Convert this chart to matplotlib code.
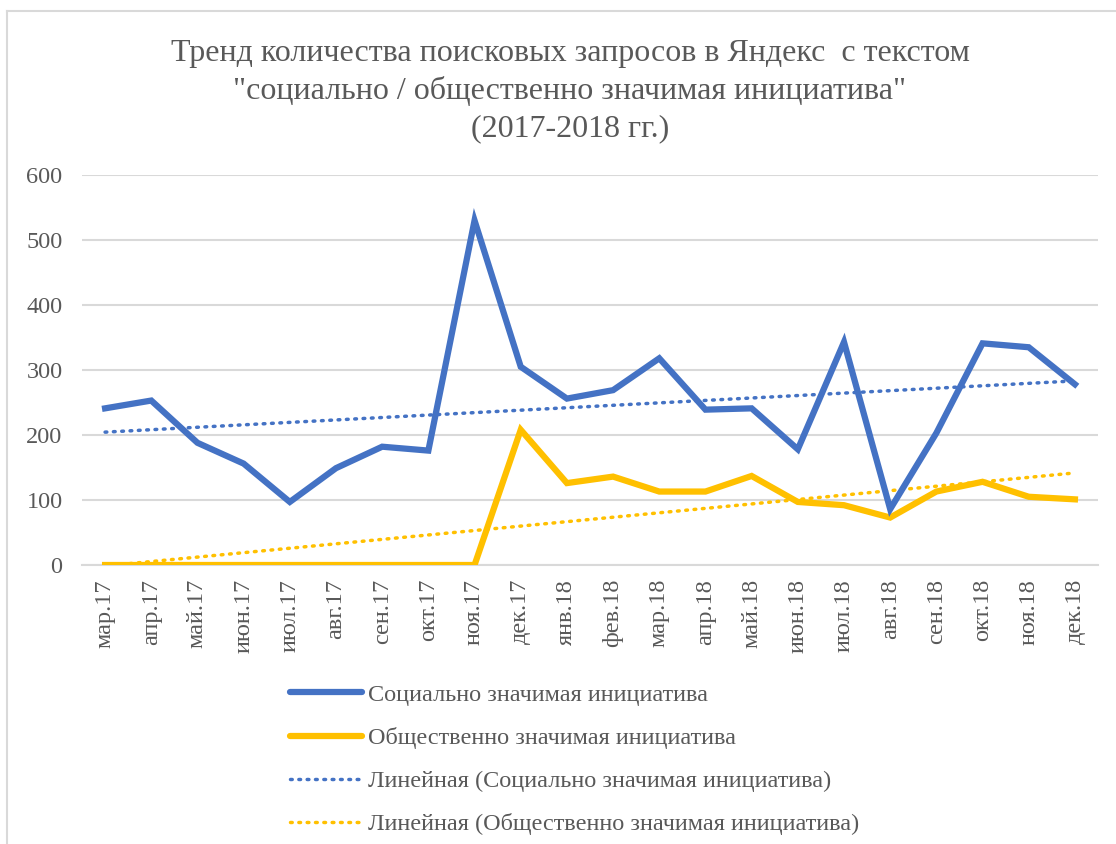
import numpy as np
import matplotlib.pyplot as plt
from matplotlib.lines import Line2D

months = ["мар.17", "апр.17", "май.17", "июн.17", "июл.17", "авг.17", "сен.17",
          "окт.17", "ноя.17", "дек.17", "янв.18", "фев.18", "мар.18", "апр.18",
          "май.18", "июн.18", "июл.18", "авг.18", "сен.18", "окт.18", "ноя.18",
          "дек.18"]
social = [241, 253, 188, 156, 97, 149, 182, 176, 530, 305, 256, 269, 318, 239,
          241, 178, 343, 86, 203, 341, 335, 278]
public = [0, 0, 0, 0, 0, 0, 0, 0, 0, 208, 126, 136, 113, 113, 137, 97, 92, 73,
          113, 128, 105, 101]

name_s = "Социально значимая инициатива"
name_p = "Общественно значимая инициатива"
BLUE = "#4472C4"
GOLD = "#FFC000"
GREY = "#595959"
DOTS = (0, (0.5, 1.9))

plt.rcParams["font.family"] = ["Liberation Serif", "DejaVu Serif"]

fig = plt.figure(figsize=(11.16, 8.44), dpi=100)
W, H = 1116, 844
# axes in pixel box: left 82, right 1098, top 175, bottom 565
ax = fig.add_axes([82 / W, 1 - 565 / H, (1098 - 82) / W, (565 - 175) / H])

x = np.arange(len(months))
ax.plot(x, social, color=BLUE, lw=4.5, solid_joinstyle="miter", zorder=4)
ax.plot(x, public, color=GOLD, lw=4.5, solid_joinstyle="miter", zorder=3)

# linear trendlines (least squares, like Excel)
for ys, c in [(social, BLUE), (public, GOLD)]:
    k, b = np.polyfit(x, ys, 1)
    ax.plot(x, k * x + b, color=c, lw=2.5, linestyle=DOTS,
            dash_capstyle="round", zorder=2)

ax.set_xlim(-0.5, len(months) - 0.5)
ax.set_ylim(0, 600)
ax.set_yticks(range(0, 601, 100))
ax.set_xticks(x)
ax.set_xticklabels(months, rotation=90, fontsize=17.5, color=GREY)
ax.tick_params(axis="y", labelsize=17.5, labelcolor=GREY, length=0, pad=14)
ax.tick_params(axis="x", length=0, pad=10)
ax.yaxis.grid(True, color="#D9D9D9", lw=1.5)
ax.set_axisbelow(True)
for s in ["top", "right", "left"]:
    ax.spines[s].set_visible(False)
ax.spines["bottom"].set_color("#D9D9D9")
ax.spines["bottom"].set_linewidth(1.5)

tx = 570 / W
fig.text(tx, 1 - 53 / H, "Тренд количества поисковых запросов в Яндекс  с текстом",
         ha="center", va="center", fontsize=23, color=GREY)
fig.text(tx, 1 - 91 / H, "\"социально / общественно значимая инициатива\"",
         ha="center", va="center", fontsize=23, color=GREY)
fig.text(tx, 1 - 129 / H, "(2017-2018 гг.)",
         ha="center", va="center", fontsize=23, color=GREY)

handles = [
    Line2D([], [], color=BLUE, lw=4.5, solid_capstyle="round"),
    Line2D([], [], color=GOLD, lw=4.5, solid_capstyle="round"),
    Line2D([], [], color=BLUE, lw=2.5, linestyle=DOTS, dash_capstyle="round"),
    Line2D([], [], color=GOLD, lw=2.5, linestyle=DOTS, dash_capstyle="round"),
]
labels = [name_s, name_p, "Линейная (" + name_s + ")", "Линейная (" + name_p + ")"]
leg = fig.legend(handles, labels, loc="upper left",
                 bbox_to_anchor=(268 / W, 1 - 662 / H), frameon=False,
                 fontsize=17.5, labelcolor=GREY, handlelength=2.96,
                 handletextpad=0.25, labelspacing=0.87)

# chart border (top and left visible)
fig.add_artist(Line2D([7 / W, 1], [1 - 11 / H, 1 - 11 / H], color="#D9D9D9", lw=1.5))
fig.add_artist(Line2D([7 / W, 7 / W], [0, 1 - 11 / H], color="#D9D9D9", lw=1.5))

fig.savefig("out.png", dpi=100)
